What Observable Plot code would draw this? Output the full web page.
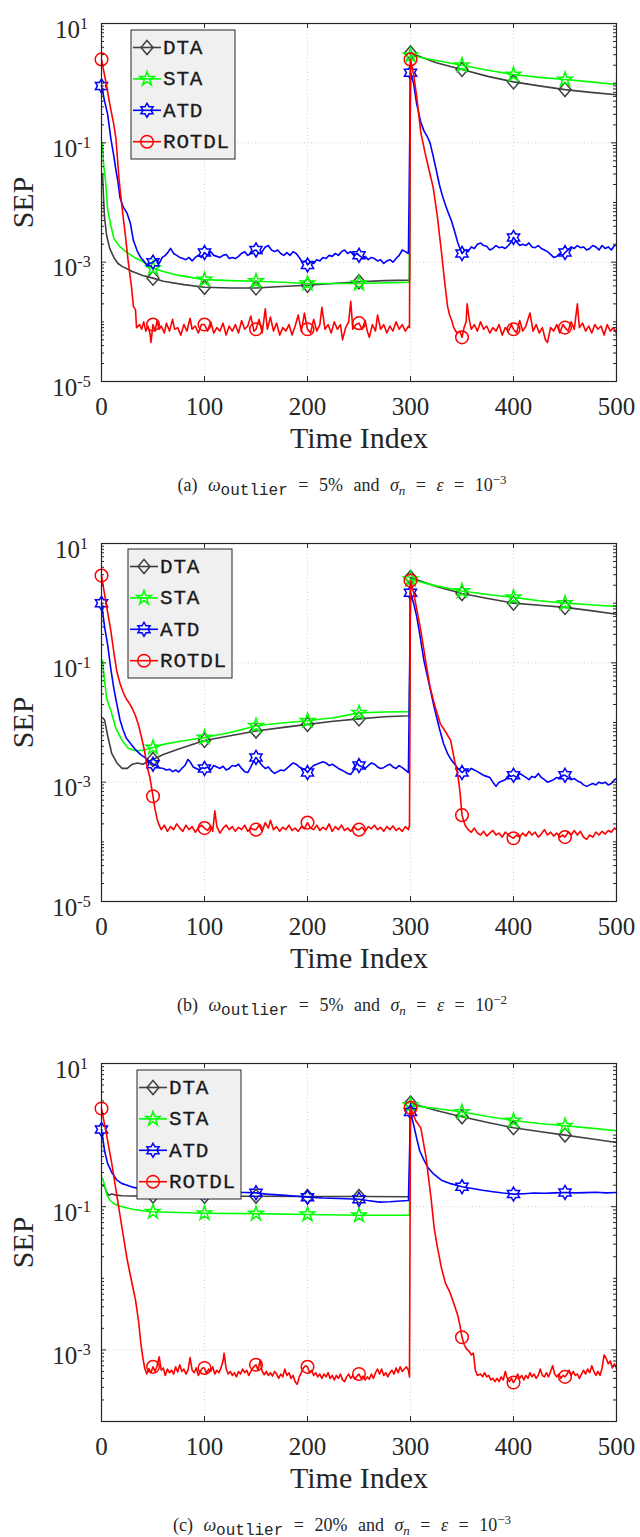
<!DOCTYPE html>
<html><head><meta charset="utf-8">
<script src="https://cdn.jsdelivr.net/npm/d3@7"></script>
<script src="https://cdn.jsdelivr.net/npm/@observablehq/plot@0.6"></script>
<style>
html,body{margin:0;padding:0;background:#fff;overflow:hidden;}
.block{position:relative;width:640px;height:520px;}
.cap{position:absolute;left:342px;top:485px;transform:translate(-50%,-50%);white-space:nowrap;
 font-family:"Liberation Serif",serif;font-size:18px;color:#262626;line-height:1;word-spacing:6px;}
.cap .mono{font-family:"Liberation Mono",monospace;font-size:16px;position:relative;top:4px;word-spacing:0;}
.cap .sub{font-size:13px;position:relative;top:4px;font-style:italic;}
.cap .sup{font-size:13px;position:relative;top:-7px;}
</style></head><body><div id="root"></div>
<script>
// ---------- data ----------
const xTicks = [0, 100, 200, 300, 400, 500];
const markerTs = [0, 50, 100, 150, 200, 250, 300, 350, 400, 450];
const names = ["DTA", "STA", "ATD", "ROTDL"];
const colors = ["#404040", "#00ff00", "#0000ff", "#ff0000"];
const yMajorAB = [10, 0.1, 1e-3, 1e-5];
const yMajorC = [10, 0.1, 1e-3];
const captions = [
  ["(a)", "5%", "−3"],
  ["(b)", "5%", "−2"],
  ["(c)", "20%", "−3"]
];

// Panel (a)
const dtaA = [[1,0.03],[2,0.012],[3,0.0055],[5,0.0028],[8,0.0017],[12,0.0012],[16,0.00095],[20,0.00085],[30,0.0007],[40,0.0006],[50,0.00054],[60,0.00048],[80,0.00042],[100,0.00038],[125,0.00037],[150,0.00037],[175,0.00039],[200,0.00041],[225,0.00044],[250,0.00047],[275,0.00049],[299,0.0005],[300,3.2],[325,2.2],[350,1.7],[375,1.3],[400,1.05],[425,0.9],[450,0.78],[475,0.7],[500,0.64]];
const staA = [[1,0.1],[2,0.045],[4,0.022],[6,0.0075],[9,0.0042],[12,0.0025],[18,0.0018],[25,0.00145],[32,0.0012],[38,0.00107],[44,0.00092],[50,0.00079],[60,0.0007],[75,0.0006],[100,0.00051],[125,0.00049],[150,0.00048],[175,0.00046],[200,0.00044],[250,0.00044],[299,0.00046],[300,2.9],[325,2.4],[350,2.0],[375,1.65],[400,1.4],[425,1.25],[450,1.15],[475,1.05],[500,0.95]];
const atdA = [[0,0.9],[3,0.5],[6,0.3],[9,0.12],[12,0.06],[14,0.035],[16,0.022],[18,0.012],[21,0.0085],[25,0.0065],[28,0.0045],[31,0.0023],[35,0.0015],[38,0.0012],[41,0.00105],[44,0.0009],[47,0.00095],[50,0.001],[53,0.0011],[56,0.00095],[59,0.0012],[62,0.0013],[65,0.0015],[67,0.0017],[70,0.0014],[73,0.0013],[76,0.0012],[79,0.00115],[82,0.0011],[85,0.0012],[88,0.00105],[91,0.0012],[94,0.0013],[97,0.0012],[100,0.00145],[103,0.0013],[106,0.0015],[109,0.0013],[112,0.00125],[115,0.0012],[118,0.0013],[121,0.00135],[124,0.00115],[127,0.0012],[130,0.00115],[133,0.00125],[136,0.0014],[139,0.0015],[142,0.0013],[145,0.0014],[148,0.00155],[150,0.0016],[153,0.0014],[156,0.0015],[159,0.0018],[162,0.0019],[165,0.0016],[168,0.0015],[171,0.0016],[174,0.0014],[177,0.0013],[180,0.00145],[183,0.0013],[186,0.0015],[189,0.0014],[192,0.0012],[195,0.001],[198,0.00105],[200,0.0009],[203,0.001],[206,0.00095],[209,0.0011],[212,0.00105],[215,0.0012],[218,0.00115],[221,0.0013],[224,0.00125],[227,0.0014],[230,0.0013],[233,0.0015],[236,0.0016],[239,0.0014],[242,0.0015],[245,0.0013],[248,0.0014],[250,0.0013],[253,0.0012],[256,0.00125],[259,0.0011],[262,0.0012],[265,0.00115],[268,0.00105],[271,0.0011],[274,0.00095],[277,0.00105],[280,0.0011],[283,0.001],[286,0.00115],[289,0.0013],[292,0.0016],[295,0.0015],[298,0.0014],[300,1.5],[303,1.0],[306,0.45],[310,0.22],[313,0.16],[316,0.13],[319,0.1],[322,0.06],[325,0.035],[328,0.02],[331,0.013],[334,0.009],[337,0.0065],[340,0.0048],[343,0.0032],[346,0.0021],[348,0.0017],[350,0.0014],[353,0.0016],[356,0.0015],[359,0.0018],[362,0.0017],[365,0.002],[368,0.0021],[371,0.0019],[374,0.00185],[377,0.0016],[380,0.0017],[383,0.0019],[386,0.00175],[389,0.0018],[392,0.0017],[395,0.0019],[398,0.0022],[400,0.0026],[403,0.0022],[406,0.0019],[409,0.002],[412,0.0019],[415,0.0021],[418,0.0018],[421,0.00175],[424,0.0019],[427,0.0017],[430,0.0016],[433,0.0015],[436,0.00135],[439,0.0012],[442,0.00125],[445,0.0014],[448,0.0013],[450,0.00145],[453,0.0016],[456,0.0018],[459,0.0017],[462,0.0019],[465,0.00175],[468,0.0018],[471,0.0016],[474,0.0017],[477,0.0019],[480,0.0018],[483,0.0016],[486,0.0019],[489,0.0017],[492,0.0018],[495,0.0016],[498,0.0019],[500,0.0019]];
const rotdlA = [[0,2.5],[4,1.1],[8,0.45],[12,0.2],[14,0.12],[17,0.025],[20,0.008],[23,0.003],[26,0.001],[29,4e-4],[31,1.8e-4],[33,1.6e-4],[34,8e-5],[37,9e-5],[39,7.5e-5],[41,1.0e-4],[43,7e-5],[45,8.5e-5],[47,6.5e-5],[48,4.5e-5],[50,9e-5],[52,7e-5],[54,1.05e-4],[56,7.5e-5],[58,8.5e-5],[61,6.5e-5],[63,9.5e-5],[66,7e-5],[69,1.1e-4],[71,7.5e-5],[74,8e-5],[77,6e-5],[80,9e-5],[83,7e-5],[86,1.15e-4],[88,7.5e-5],[91,8.5e-5],[94,6.5e-5],[97,9e-5],[100,9e-5],[103,7e-5],[106,1.0e-4],[109,6.5e-5],[112,8e-5],[115,7e-5],[118,9.5e-5],[121,6e-5],[124,8.5e-5],[127,7e-5],[130,9e-5],[133,6.5e-5],[136,1.05e-4],[139,7.5e-5],[142,8.5e-5],[145,1.25e-4],[148,7e-5],[150,7.5e-5],[153,1.1e-4],[156,6.5e-5],[159,1.65e-4],[161,7.5e-5],[164,1.2e-4],[167,7e-5],[170,9.5e-5],[173,6e-5],[176,8e-5],[179,7e-5],[182,9e-5],[185,6e-5],[188,8.5e-5],[191,1.3e-4],[194,7e-5],[197,1.4e-4],[200,7.5e-5],[203,6.5e-5],[206,1.1e-4],[209,7e-5],[212,9e-5],[214,1.75e-4],[217,7.5e-5],[220,9e-5],[223,6.5e-5],[226,1.0e-4],[229,7.5e-5],[232,9e-5],[234,5e-5],[237,8e-5],[240,1.0e-4],[242,2.2e-4],[244,7.5e-5],[247,9e-5],[250,9.5e-5],[253,7.5e-5],[256,1.05e-4],[258,7e-5],[260,5.5e-5],[263,9e-5],[266,7e-5],[268,1.3e-4],[271,7.5e-5],[274,9e-5],[277,6.5e-5],[280,8.5e-5],[283,7e-5],[286,1.0e-4],[289,7.5e-5],[292,9e-5],[295,7e-5],[298,8.5e-5],[299,8e-5],[300,2.5],[303,1.4],[306,0.6],[310,0.15],[314,0.07],[318,0.035],[322,0.018],[326,0.006],[330,0.0015],[333,5e-4],[336,1.8e-4],[338,1.3e-4],[340,1.05e-4],[342,8e-5],[345,6.5e-5],[348,7e-5],[350,5.5e-5],[352,8e-5],[354,1.0e-4],[355,2.0e-4],[357,1.1e-4],[359,7.5e-5],[362,9e-5],[365,7e-5],[368,1.0e-4],[371,7.5e-5],[374,8.5e-5],[377,6.5e-5],[380,8e-5],[383,7e-5],[386,9e-5],[389,6e-5],[392,8e-5],[395,7e-5],[398,9e-5],[400,7.5e-5],[403,6.5e-5],[406,1.05e-4],[409,7e-5],[412,8.5e-5],[416,1.4e-4],[419,7e-5],[422,9e-5],[425,6.5e-5],[428,8e-5],[431,5e-5],[433,4.5e-5],[436,8e-5],[439,7e-5],[442,9e-5],[445,6.5e-5],[448,9e-5],[450,8e-5],[453,7e-5],[456,1.0e-4],[459,7.5e-5],[462,2.0e-4],[464,8e-5],[467,9.5e-5],[470,7e-5],[473,8.5e-5],[476,6.5e-5],[479,9e-5],[482,7.5e-5],[485,8.5e-5],[488,6e-5],[491,9e-5],[494,7e-5],[497,8e-5],[500,6.5e-5]];

// Panel (b)
const dtaB = [[1,0.012],[3,0.011],[6,0.006],[10,0.003],[15,0.0021],[20,0.0017],[25,0.0017],[30,0.002],[35,0.0021],[40,0.002],[45,0.0022],[50,0.0024],[60,0.0029],[75,0.0036],[100,0.005],[125,0.006],[150,0.0072],[175,0.0082],[200,0.0093],[225,0.0105],[250,0.0115],[275,0.0125],[299,0.013],[300,2.7],[325,1.9],[350,1.45],[375,1.2],[400,1.0],[425,0.92],[450,0.85],[475,0.75],[500,0.65]];
const staB = [[1,0.11],[3,0.05],[5,0.025],[9,0.016],[14,0.008],[20,0.005],[26,0.0037],[32,0.0034],[40,0.0034],[50,0.0038],[60,0.0043],[75,0.0048],[100,0.0056],[125,0.0068],[150,0.0088],[175,0.0098],[200,0.0107],[225,0.012],[250,0.0145],[275,0.015],[299,0.0152],[300,2.5],[325,1.95],[350,1.6],[375,1.4],[400,1.25],[425,1.1],[450,1.0],[475,0.94],[500,0.88]];
const atdB = [[0,1.0],[3,0.4],[6,0.2],[9,0.08],[12,0.037],[15,0.02],[18,0.011],[21,0.0075],[24,0.0055],[28,0.0045],[33,0.0035],[38,0.0029],[42,0.0026],[46,0.0023],[50,0.002],[53,0.0019],[56,0.00175],[60,0.0017],[63,0.0016],[66,0.00165],[69,0.0015],[72,0.0016],[75,0.00148],[78,0.0017],[81,0.0019],[84,0.0024],[86,0.0022],[89,0.0018],[92,0.0017],[95,0.0016],[98,0.00175],[100,0.0017],[103,0.0018],[106,0.0016],[109,0.0019],[112,0.0018],[115,0.0017],[118,0.00185],[121,0.0016],[124,0.0017],[127,0.0019],[130,0.00185],[133,0.002],[136,0.0017],[139,0.0015],[142,0.00145],[145,0.0018],[148,0.0023],[150,0.0026],[153,0.0022],[156,0.0019],[159,0.0017],[162,0.0018],[165,0.00155],[168,0.0014],[171,0.0015],[174,0.0016],[177,0.00155],[180,0.0017],[183,0.0019],[186,0.0021],[189,0.002],[192,0.0018],[195,0.0017],[198,0.0016],[200,0.00145],[203,0.0017],[206,0.0019],[209,0.002],[212,0.0021],[215,0.0022],[218,0.0021],[221,0.0019],[224,0.002],[227,0.00185],[230,0.0017],[233,0.0016],[236,0.0015],[239,0.0014],[242,0.00135],[245,0.0016],[248,0.0021],[250,0.0019],[253,0.0018],[256,0.0017],[259,0.0019],[262,0.0021],[265,0.002],[268,0.0018],[271,0.0017],[274,0.00175],[277,0.0019],[280,0.002],[283,0.0018],[286,0.0017],[289,0.0019],[292,0.00175],[295,0.0016],[298,0.00145],[300,1.5],[303,1.0],[306,0.6],[309,0.3],[313,0.11],[318,0.045],[323,0.018],[328,0.008],[332,0.0045],[336,0.003],[340,0.0023],[343,0.002],[346,0.0017],[350,0.00145],[353,0.0016],[356,0.0015],[359,0.0017],[362,0.0016],[365,0.0015],[368,0.0014],[371,0.0013],[374,0.00125],[377,0.0012],[380,0.001],[383,0.00085],[386,0.001],[389,0.00105],[392,0.0011],[395,0.0013],[398,0.00125],[400,0.0013],[403,0.0012],[406,0.0014],[409,0.0013],[412,0.0012],[415,0.0011],[418,0.00125],[421,0.0012],[424,0.0014],[427,0.0012],[430,0.0011],[433,0.001],[436,0.00105],[439,0.0011],[442,0.0012],[445,0.00115],[448,0.0013],[450,0.0013],[453,0.0012],[456,0.0011],[459,0.00115],[462,0.00105],[465,0.001],[468,0.0009],[471,0.00085],[474,0.0009],[477,0.00095],[480,0.0009],[483,0.001],[486,0.00095],[489,0.001],[492,0.0009],[495,0.00095],[498,0.0011],[500,0.00115]];
const rotdlB = [[0,2.9],[3,1.4],[6,0.7],[9,0.35],[12,0.15],[15,0.07],[18,0.045],[21,0.032],[24,0.025],[27,0.021],[30,0.017],[33,0.013],[36,0.009],[39,0.0055],[42,0.0032],[44,0.0019],[47,0.0012],[50,5.8e-4],[52,3.5e-4],[54,2.4e-4],[56,1.9e-4],[58,1.6e-4],[61,1.9e-4],[64,1.5e-4],[67,1.8e-4],[70,1.6e-4],[73,2.0e-4],[76,1.7e-4],[79,1.5e-4],[82,1.9e-4],[85,1.6e-4],[88,1.8e-4],[91,1.45e-4],[94,1.7e-4],[97,1.9e-4],[100,1.7e-4],[103,1.55e-4],[106,1.85e-4],[108,1.5e-4],[110,3.3e-4],[112,1.8e-4],[115,1.4e-4],[118,1.7e-4],[121,1.9e-4],[124,1.6e-4],[127,1.8e-4],[130,1.5e-4],[133,1.75e-4],[136,1.6e-4],[139,1.9e-4],[142,1.5e-4],[145,1.7e-4],[148,1.6e-4],[150,1.6e-4],[153,1.9e-4],[156,1.5e-4],[159,2.1e-4],[162,1.7e-4],[164,2.3e-4],[167,1.6e-4],[170,1.8e-4],[173,1.5e-4],[176,1.75e-4],[179,1.6e-4],[182,1.9e-4],[185,1.55e-4],[188,1.7e-4],[191,1.5e-4],[194,1.8e-4],[197,1.65e-4],[200,2.1e-4],[203,1.7e-4],[206,1.6e-4],[209,1.9e-4],[212,1.55e-4],[215,1.75e-4],[218,1.6e-4],[221,2.0e-4],[224,1.5e-4],[227,1.8e-4],[230,1.6e-4],[233,1.9e-4],[236,1.55e-4],[239,1.7e-4],[242,1.5e-4],[245,1.8e-4],[248,1.6e-4],[250,1.6e-4],[253,1.75e-4],[256,1.5e-4],[259,1.8e-4],[262,1.65e-4],[265,1.9e-4],[268,1.6e-4],[271,1.75e-4],[274,1.5e-4],[277,1.8e-4],[280,1.6e-4],[283,1.85e-4],[286,1.55e-4],[289,1.7e-4],[292,1.5e-4],[295,1.8e-4],[298,1.6e-4],[299,1.9e-4],[300,2.4],[303,1.5],[306,0.8],[310,0.35],[315,0.1],[319,0.039],[324,0.018],[329,0.0095],[334,0.007],[339,0.005],[343,0.0022],[346,0.0013],[348,7e-4],[350,2.8e-4],[353,1.9e-4],[356,1.6e-4],[359,1.45e-4],[362,1.7e-4],[365,1.4e-4],[368,1.3e-4],[371,1.5e-4],[374,1.25e-4],[377,1.4e-4],[380,1.55e-4],[383,1.3e-4],[386,1.4e-4],[389,1.2e-4],[392,1.45e-4],[395,1.3e-4],[398,1.2e-4],[400,1.15e-4],[403,1.3e-4],[406,1.2e-4],[409,1.4e-4],[412,1.25e-4],[415,1.5e-4],[418,1.3e-4],[421,1.45e-4],[424,1.2e-4],[427,1.35e-4],[430,1.6e-4],[433,1.3e-4],[436,1.45e-4],[439,1.25e-4],[442,1.4e-4],[445,1.2e-4],[448,1.3e-4],[450,1.2e-4],[453,1.45e-4],[456,1.3e-4],[459,1.55e-4],[462,1.3e-4],[465,1.5e-4],[468,1.2e-4],[471,1.1e-4],[474,1.3e-4],[477,1.2e-4],[480,1.45e-4],[483,1.3e-4],[486,1.5e-4],[489,1.35e-4],[492,1.55e-4],[495,1.45e-4],[498,1.7e-4],[500,1.6e-4]];

// Panel (c)
const dtaC = [[1,0.2],[3,0.19],[5,0.16],[7,0.145],[10,0.15],[14,0.145],[20,0.142],[30,0.141],[50,0.141],[100,0.14],[150,0.14],[200,0.139],[250,0.139],[299,0.138],[300,2.8],[325,2.2],[350,1.8],[375,1.5],[400,1.27],[425,1.12],[450,1.0],[475,0.89],[500,0.79]];
const staC = [[1,0.25],[3,0.2],[5,0.15],[8,0.125],[12,0.11],[16,0.104],[20,0.1],[30,0.092],[40,0.088],[50,0.085],[75,0.083],[100,0.081],[150,0.08],[200,0.078],[250,0.076],[299,0.076],[300,2.6],[325,2.35],[350,2.1],[375,1.82],[400,1.6],[425,1.45],[450,1.35],[475,1.25],[500,1.15]];
const atdC = [[0,1.2],[3,0.6],[6,0.4],[10,0.3],[15,0.235],[20,0.21],[25,0.2],[31,0.186],[40,0.175],[50,0.17],[60,0.168],[75,0.165],[90,0.162],[100,0.16],[110,0.16],[125,0.159],[140,0.158],[150,0.156],[160,0.15],[175,0.145],[190,0.14],[200,0.136],[215,0.132],[230,0.13],[250,0.127],[260,0.121],[270,0.116],[280,0.117],[290,0.12],[298,0.122],[300,2.1],[303,1.4],[306,0.9],[309,0.6],[313,0.45],[317,0.35],[322,0.29],[330,0.235],[339,0.21],[350,0.19],[360,0.18],[370,0.17],[380,0.162],[390,0.155],[400,0.15],[410,0.152],[420,0.155],[430,0.154],[440,0.156],[450,0.158],[460,0.156],[470,0.157],[480,0.159],[490,0.156],[500,0.158]];
const rotdlC = [[0,2.35],[5,1.0],[10,0.4],[15,0.14],[20,0.05],[25,0.018],[30,0.008],[33,0.005],[36,0.0025],[38,0.0013],[40,8e-4],[42,5.5e-4],[44,4.6e-4],[46,5.5e-4],[48,4.8e-4],[50,5.8e-4],[52,5.0e-4],[54,6.0e-4],[56,8.0e-4],[58,5.2e-4],[60,5.6e-4],[62,4.4e-4],[64,5.4e-4],[66,4.8e-4],[68,5.2e-4],[70,4.6e-4],[72,5.8e-4],[74,4.9e-4],[76,6.2e-4],[78,5.0e-4],[80,5.4e-4],[82,4.6e-4],[84,5.2e-4],[86,7.8e-4],[88,5.2e-4],[90,4.8e-4],[92,5.6e-4],[94,4.4e-4],[96,5.0e-4],[98,5.6e-4],[100,5.6e-4],[102,4.7e-4],[104,5.4e-4],[106,5.0e-4],[108,5.8e-4],[110,4.6e-4],[112,5.2e-4],[114,4.8e-4],[116,5.6e-4],[118,7.0e-4],[119,9.0e-4],[121,5.5e-4],[123,4.6e-4],[125,5.0e-4],[127,4.4e-4],[129,4.8e-4],[131,4.2e-4],[133,5.0e-4],[135,4.6e-4],[137,5.4e-4],[139,4.8e-4],[141,5.2e-4],[143,4.4e-4],[145,5.0e-4],[147,5.6e-4],[150,6.2e-4],[152,5.2e-4],[154,7.2e-4],[156,5.0e-4],[158,4.5e-4],[160,5.0e-4],[162,4.4e-4],[164,4.8e-4],[166,4.3e-4],[168,5.0e-4],[170,4.6e-4],[172,4.0e-4],[174,4.6e-4],[176,4.2e-4],[178,5.4e-4],[180,4.4e-4],[182,4.8e-4],[184,4.0e-4],[186,4.4e-4],[188,3.6e-4],[190,3.3e-4],[192,4.2e-4],[194,4.8e-4],[196,5.6e-4],[198,6.0e-4],[200,5.8e-4],[202,4.8e-4],[204,5.2e-4],[206,4.4e-4],[208,4.8e-4],[210,4.2e-4],[212,4.6e-4],[214,4.0e-4],[216,4.6e-4],[218,4.2e-4],[220,4.8e-4],[222,4.0e-4],[224,4.4e-4],[226,3.8e-4],[228,4.4e-4],[230,4.0e-4],[232,4.6e-4],[234,3.8e-4],[236,3.6e-4],[238,4.2e-4],[240,4.6e-4],[242,4.0e-4],[244,4.4e-4],[246,3.9e-4],[248,4.3e-4],[250,4.6e-4],[252,4.0e-4],[254,4.3e-4],[256,3.8e-4],[258,4.2e-4],[260,3.9e-4],[262,4.6e-4],[264,4.0e-4],[266,4.8e-4],[268,5.4e-4],[270,4.6e-4],[272,5.4e-4],[274,4.4e-4],[276,4.8e-4],[278,4.2e-4],[280,4.8e-4],[282,5.2e-4],[284,4.6e-4],[286,5.6e-4],[288,4.8e-4],[290,5.8e-4],[292,5.0e-4],[294,5.4e-4],[296,5.8e-4],[298,5.2e-4],[299,4.2e-4],[300,2.4],[305,1.6],[310,1.26],[315,0.5],[320,0.13],[323,0.05],[326,0.028],[330,0.014],[334,0.0085],[338,0.0065],[342,0.0045],[346,0.003],[348,0.0022],[350,0.0015],[352,0.0012],[354,0.00105],[357,9.5e-4],[359,8.5e-4],[361,9.0e-4],[363,5.2e-4],[365,4.4e-4],[368,4.6e-4],[370,4.2e-4],[372,4.8e-4],[374,4.2e-4],[376,4.4e-4],[378,3.8e-4],[380,4.0e-4],[382,3.6e-4],[384,4.0e-4],[386,3.6e-4],[388,4.2e-4],[390,3.8e-4],[392,5.0e-4],[394,4.0e-4],[396,3.6e-4],[398,4.0e-4],[400,3.5e-4],[402,3.9e-4],[404,4.6e-4],[406,4.0e-4],[408,4.4e-4],[410,3.8e-4],[412,4.4e-4],[414,4.0e-4],[416,4.8e-4],[418,4.2e-4],[420,4.6e-4],[422,4.0e-4],[424,4.4e-4],[426,5.4e-4],[428,4.4e-4],[430,4.2e-4],[432,4.8e-4],[434,4.2e-4],[436,5.0e-4],[438,6.0e-4],[440,4.6e-4],[442,4.2e-4],[444,4.6e-4],[446,4.0e-4],[448,4.4e-4],[450,4.2e-4],[452,4.6e-4],[454,5.2e-4],[456,4.4e-4],[458,5.0e-4],[460,4.4e-4],[462,4.6e-4],[464,4.0e-4],[466,4.6e-4],[468,5.2e-4],[470,4.6e-4],[472,5.4e-4],[474,4.8e-4],[476,6.0e-4],[478,5.0e-4],[480,4.4e-4],[482,5.0e-4],[484,4.4e-4],[486,5.6e-4],[488,8.5e-4],[490,7.6e-4],[492,6.4e-4],[494,7.0e-4],[496,5.6e-4],[498,6.4e-4],[500,5.5e-4]];

// ---------- symbols (MATLAB-like markers) ----------
const diamondSym = {draw(c){ const w = 6, h = 7; c.moveTo(0,-h); c.lineTo(w,0); c.lineTo(0,h); c.lineTo(-w,0); c.closePath(); }};
const pentagramSym = {draw(c){ const R = 7.5, r = R*0.382; for (let i = 0; i < 10; i++){ const a = -Math.PI/2 + i*Math.PI/5, rr = i%2 ? r : R; const x = rr*Math.cos(a), y = rr*Math.sin(a); if (i) c.lineTo(x,y); else c.moveTo(x,y);} c.closePath(); }};
const hexagramSym = {draw(c){ const R = 7, r = R/Math.sqrt(3); for (let i = 0; i < 12; i++){ const a = -Math.PI/2 + i*Math.PI/6, rr = i%2 ? r : R; const x = rr*Math.cos(a), y = rr*Math.sin(a); if (i) c.lineTo(x,y); else c.moveTo(x,y);} c.closePath(); }};
const circleSym = {draw(c){ c.moveTo(6.3,0); c.arc(0,0,6.3,0,2*Math.PI); }};
const symbols = [diamondSym, pentagramSym, hexagramSym, circleSym];

const AX = "#262626";
const panels = [
  {series: [dtaA, staA, atdA, rotdlA], domain: [1e-5, 10], major: yMajorAB, legend: [131, 30]},
  {series: [dtaB, staB, atdB, rotdlB], domain: [1e-5, 10], major: yMajorAB, legend: [128, 29]},
  {series: [dtaC, staC, atdC, rotdlC], domain: [1e-4, 10], major: yMajorC, legend: [137, 30]}
];

function minorTicks(domain, major) {
  const out = [];
  const lo = Math.round(Math.log10(domain[0])), hi = Math.round(Math.log10(domain[1]));
  for (let e = lo; e <= hi; e++) for (let k = 1; k <= 9; k++) {
    const v = k * Math.pow(10, e);
    if (v < domain[0]*0.999 || v > domain[1]*1.001) continue;
    if (major.some(m => Math.abs(m - v) / m < 1e-6)) continue;
    out.push(v);
  }
  return out;
}

const root = document.getElementById("root");
panels.forEach((p, pi) => {
  const block = document.createElement("div");
  block.className = "block";
  if (pi === 2) block.style.height = "497px";
  const minor = minorTicks(p.domain, p.major);
  const PH = 358, PW = 515;
  const seriesMarks = [];
  p.series.forEach((s, i) => {
    const pts = s.map(([t, v]) => ({t, v}));
    seriesMarks.push(Plot.line(pts, {x: "t", y: "v", stroke: colors[i], strokeWidth: 1.6}));
    seriesMarks.push(Plot.dot(pts.filter(d => markerTs.includes(d.t)), {x: "t", y: "v", symbol: symbols[i], stroke: colors[i], fill: "none", strokeWidth: 1.5}));
  });
  const svg = Plot.plot({
    width: 640, height: 460,
    marginTop: 23, marginBottom: 79, marginLeft: 101, marginRight: 24,
    x: {domain: [0, 500]},
    y: {type: "log", domain: p.domain},
    style: {fontFamily: '"Liberation Serif", serif', fontSize: "25px", color: AX, background: "transparent"},
    marks: [
      Plot.ruleX(xTicks, {stroke: "#d2d2d2", strokeDasharray: "1,2.5", strokeWidth: 1}),
      Plot.ruleY(p.major, {stroke: "#d2d2d2", strokeDasharray: "1,2.5", strokeWidth: 1}),
      ...seriesMarks,
      Plot.frame({stroke: AX, strokeWidth: 1.2}),
      Plot.tickX(xTicks, {x: d => d, stroke: AX, insetTop: PH - 5}),
      Plot.tickX(xTicks, {x: d => d, stroke: AX, insetBottom: PH - 5}),
      Plot.tickY(p.major, {y: d => d, stroke: AX, insetRight: PW - 5}),
      Plot.tickY(p.major, {y: d => d, stroke: AX, insetLeft: PW - 5}),
      Plot.tickY(minor, {y: d => d, stroke: AX, insetRight: PW - 3}),
      Plot.tickY(minor, {y: d => d, stroke: AX, insetLeft: PW - 3}),
      Plot.axisX(xTicks, {anchor: "bottom", tickSize: 0, tickPadding: 16, fontSize: 25, fill: AX, label: null}),
      Plot.axisY(p.major, {anchor: "left", tickSize: 0, tickPadding: 0, dx: -30, dy: 6, textAnchor: "middle", fontSize: 25, fill: AX, label: null,
        tickFormat: d => "10^" + Math.round(Math.log10(d))}),
      Plot.text(["Time Index"], {text: d => d, frameAnchor: "bottom", dy: 57, lineAnchor: "middle", fontSize: 30, fill: AX, ariaLabel: "xlabel"}),
      Plot.text(["SEP"], {text: d => d, frameAnchor: "left", dx: -78.5, rotate: -90, lineAnchor: "middle", textAnchor: "middle", fontSize: 30, fill: AX, ariaLabel: "ylabel"})
    ]
  });
  // superscript exponents on y tick labels
  d3.select(svg).selectAll('g[aria-label="y-axis tick label"] text').each(function () {
    const m = this.textContent.match(/^10\^(-?\d+)$/);
    if (!m) return;
    const sel = d3.select(this);
    sel.text(null);
    sel.append("tspan").text("10");
    sel.append("tspan").attr("dy", -9).attr("font-size", 16).text(m[1]);
  });
  d3.select(svg).selectAll('g[aria-label="xlabel"] text, g[aria-label="ylabel"] text').attr("letter-spacing", "1.5px");
  // legend
  const [lx, ly] = p.legend;
  const g = d3.select(svg).append("g").attr("text-anchor", "start");
  g.append("rect").attr("x", lx).attr("y", ly).attr("width", 104).attr("height", 129)
    .attr("fill", "#f0f0f0").attr("stroke", AX).attr("stroke-width", 1);
  names.forEach((n, i) => {
    const cy = ly + 17.5 + i * 31.4;
    g.append("line").attr("x1", lx + 2).attr("x2", lx + 30).attr("y1", cy).attr("y2", cy)
      .attr("stroke", colors[i]).attr("stroke-width", 1.6);
    g.append("path").attr("d", d3.symbol(symbols[i])()).attr("transform", `translate(${lx + 16},${cy})`)
      .attr("fill", "none").attr("stroke", colors[i]).attr("stroke-width", 1.5);
    g.append("text").attr("x", lx + 32).attr("y", cy + 6.5).attr("text-anchor", "start").text(n)
      .attr("font-family", '"Liberation Mono", monospace').attr("font-size", 21).attr("letter-spacing", "0.8px")
      .attr("fill", "#1a1a1a").attr("stroke", "#1a1a1a").attr("stroke-width", 0.3);
  });
  block.appendChild(svg);
  const cap = document.createElement("div");
  cap.className = "cap";
  const [lab, pct, exp] = captions[pi];
  cap.innerHTML = `${lab} <i>ω</i><span class="mono">outlier</span> = ${pct} and <i>σ</i><span class="sub">n</span> = <i>ε</i> = 10<span class="sup">${exp}</span>`;
  block.appendChild(cap);
  root.appendChild(block);
});
</script></body></html>
